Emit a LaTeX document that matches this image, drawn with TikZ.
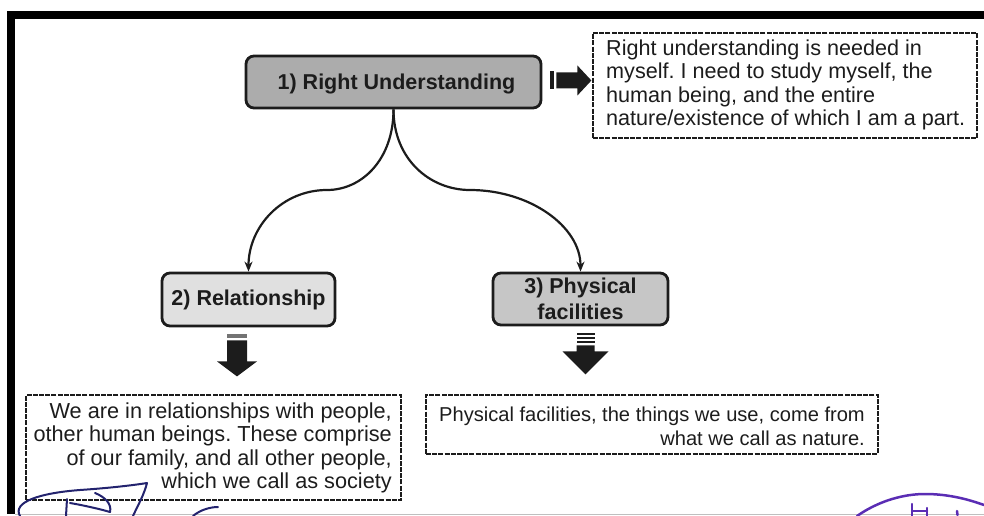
\documentclass[tikz,border=0pt]{standalone}
\usepackage{fontspec}
\setmainfont{Liberation Sans}
\usetikzlibrary{arrows.meta,calc}
\definecolor{ink}{HTML}{1C1C1C}
\definecolor{boxone}{HTML}{ACACAC}
\definecolor{boxtwo}{HTML}{E0E0E0}
\definecolor{boxthree}{HTML}{C6C6C6}
\definecolor{pen}{HTML}{23236E}
\definecolor{stamp}{HTML}{5A2DB4}
\frenchspacing
\begin{document}
\begin{tikzpicture}[x=1pt,y=-1pt,
  stepbox/.style={draw=ink,line width=2.8pt,rounded corners=8pt,
    font=\fontsize{21.5}{26}\selectfont\bfseries,text=ink,align=center,inner sep=0pt},
  dashbox/.style={draw=ink,line width=2.6pt,dash pattern=on 5pt off 1.2pt,inner sep=0pt},
  bodytext/.style={text=ink,inner sep=0pt},
  flow/.style={draw=ink,line width=2.2pt,-{Stealth[length=10pt,width=8pt]}},
  blockarrow/.style={fill=ink,draw=none},
  scribble/.style={line width=2pt,line cap=round,line join=round}]

\useasboundingbox (0,0) rectangle (984,516);

% frame
\fill[black] (7,11) rectangle (984,19);
\fill[black] (7,11) rectangle (15,514);
\draw[black!25,line width=1pt] (15,514.5) -- (984,514.5);

% main boxes
\node[stepbox,fill=boxone,minimum width=295pt,minimum height=52pt,text depth=0pt] (b1) at (393.5,82) {\hspace*{6pt}1) Right Understanding};
\node[stepbox,fill=boxtwo,minimum width=173pt,minimum height=53pt] (b2) at (248.5,299.5) {2) Relationship};
\node[stepbox,fill=boxthree,minimum width=175pt,minimum height=52pt] (b3) at (580.5,299) {3) Physical\\facilities};

% dashed boxes
\node[dashbox,minimum width=384pt,minimum height=105pt] (rbox) at (785,85.5) {};
\node[bodytext,font=\fontsize{21.6}{23.5}\selectfont,anchor=west,align=left] (rtext) at (606,85) {Right understanding is needed in\\myself. I need to study myself, the\\human being, and the entire\\nature/existence of which I am a part.};

\node[dashbox,minimum width=375pt,minimum height=105pt] (lbox) at (213.5,447.5) {};
\node[bodytext,font=\fontsize{21.7}{23.3}\selectfont,anchor=east,align=right] (ltext) at (392,448) {We are in relationships with people,\\other human beings. These comprise\\of our family, and all other people,\\which we call as society};

\node[dashbox,minimum width=452pt,minimum height=59pt] (pbox) at (652,424.5) {};
\node[bodytext,font=\fontsize{20.1}{24}\selectfont,anchor=east,align=right] (ptext) at (865,426) {Physical facilities, the things we use, come from\\what we call as nature.};

% curved connectors
\coordinate (lmid) at (327,190);
\coordinate (rmid) at (470,190);
\draw[flow] (b1.south) .. controls ++(0,50) and ++(35,0) .. (lmid)
  .. controls ++(-45,0) and ++(0,-45) .. (b2.north);
\draw[flow] (b1.south) .. controls ++(0,50) and ++(-40,0) .. (rmid)
  .. controls ++(60,0) and ++(0,-45) .. (b3.north);

% block arrow to the right box
\coordinate (a1) at ($(b1.east)+(0,-1.5)$);
\fill[blockarrow] ($(a1)+(8,-9)$) rectangle ($(a1)+(11.5,9)$);
\fill[blockarrow] ($(a1)+(14,-8)$) -- ($(a1)+(35,-8)$) -- ($(a1)+(35,-15)$)
  -- ($(a1)+(49,0)$) -- ($(a1)+(35,15)$) -- ($(a1)+(35,8)$) -- ($(a1)+(14,8)$) -- cycle;

% block arrow below box 2
\coordinate (a2) at ($(b2.south)+(-11.5,0)$);
\fill[black!55] ($(a2)+(-10,7)$) rectangle ($(a2)+(10,11)$);
\fill[blockarrow] ($(a2)+(-10,13)$) -- ($(a2)+(10,13)$) -- ($(a2)+(10,34)$)
  -- ($(a2)+(20,34)$) -- ($(a2)+(0,49)$) -- ($(a2)+(-20,34)$) -- ($(a2)+(-10,34)$) -- cycle;

% block arrow below box 3
\coordinate (a3) at ($(b3.south)+(5,0)$);
\fill[blockarrow] ($(a3)+(-9,7)$) rectangle ($(a3)+(9,9)$);
\fill[blockarrow] ($(a3)+(-9,11)$) rectangle ($(a3)+(9,13)$);
\fill[blockarrow] ($(a3)+(-9,15)$) rectangle ($(a3)+(9,17)$);
\fill[blockarrow] ($(a3)+(-9,19)$) -- ($(a3)+(9,19)$) -- ($(a3)+(9,25)$)
  -- ($(a3)+(23,25)$) -- ($(a3)+(0,48)$) -- ($(a3)+(-23,25)$) -- ($(a3)+(-9,25)$) -- cycle;

% handwriting at the bottom
\draw[scribble,pen] (20,516) .. controls (12,502) and (40,493) .. (80,490)
  .. controls (110,488) and (135,485) .. (147,483)
  .. controls (144,495) and (138,505) .. (133,516);
\draw[scribble,pen] (67,499) -- (66,516);
\draw[scribble,pen] (95,493) .. controls (105,497) and (112,504) .. (110,512)
  .. controls (100,509) and (82,505) .. (70,503);
\draw[scribble,pen] (193,516) .. controls (200,510) and (210,507) .. (218,507);
\draw[scribble,stamp,line width=2.5pt] (857,516) .. controls (880,500) and (905,494) .. (925,494)
  .. controls (950,494) and (970,500) .. (984,505);
\draw[scribble,stamp,line width=2.5pt] (912,504) -- (912,516);
\draw[scribble,stamp,line width=2.5pt] (927,508) -- (927,516);
\draw[scribble,stamp,line width=2.5pt] (912,511) -- (927,511);
\draw[scribble,stamp,line width=2.5pt] (957,511) -- (957.5,515);
\end{tikzpicture}
\end{document}
